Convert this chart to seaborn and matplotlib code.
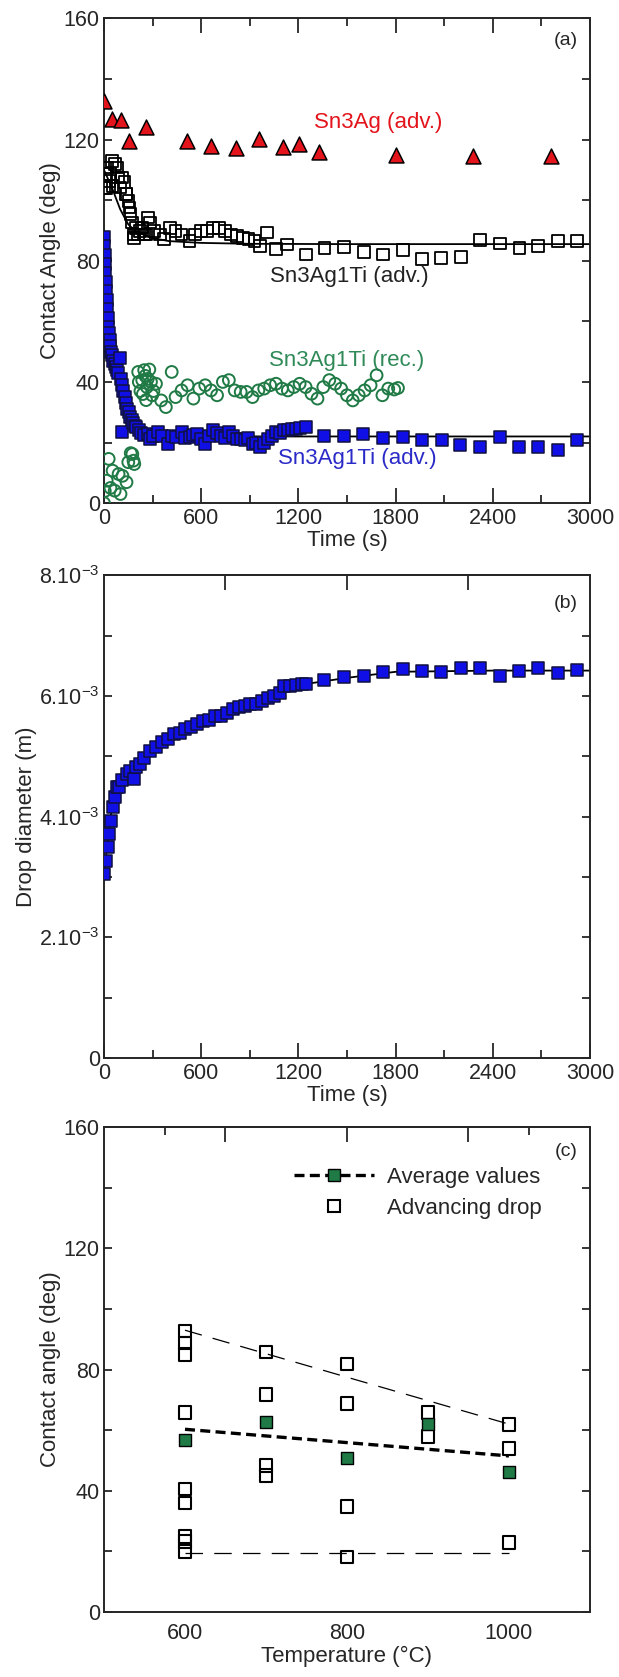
import numpy as np
import pandas as pd
import matplotlib
matplotlib.use('Agg')
import matplotlib.pyplot as plt
from matplotlib.lines import Line2D
from matplotlib.ticker import FixedLocator, FixedFormatter
import seaborn as sns

sns.set_style('ticks')
plt.rcParams['font.family'] = ['Liberation Sans', 'DejaVu Sans']
plt.rcParams['mathtext.default'] = 'regular'
plt.rcParams['axes.linewidth'] = 1.4

# ---------------- panel (a): contact angle vs time ----------------
sn3ag_t = [0, 49, 107, 153, 260, 511, 661, 814, 958, 1106, 1206, 1325, 1801, 2278, 2759]
sn3ag_v = [132.9, 126.9, 126.5, 119.4, 124.3, 119.7, 117.8, 117.1, 120.2, 117.5, 118.6,
           115.8, 115.0, 114.7, 114.5]

ti_adv_t = [0, 5, 12, 17, 29, 36, 49, 53, 66, 78, 85, 102, 109, 126, 134, 139, 151, 158,
            163, 175, 182, 187, 199, 211, 224, 236, 248, 260, 272, 284, 309, 345, 370,
            406, 442, 479, 528, 564, 600, 637, 673, 710, 746, 783, 819, 856, 892, 929,
            965, 1006, 1062, 1130, 1245, 1361, 1483, 1604, 1724, 1845, 1962, 2083, 2205,
            2322, 2443, 2565, 2679, 2801, 2922]
ti_adv_v = [104, 108.6, 104, 110.8, 106.4, 108.6, 113, 104.8, 112, 110.8, 107.5, 104.2,
            107.5, 105.9, 102, 102, 99.8, 97.6, 95.4, 92.6, 88.7, 87.6, 90.9, 88.7, 89.8,
            91, 88.7, 88.7, 94.3, 92.6, 89.8, 88.7, 87.1, 90.9, 89.8, 88.7, 86.5, 88.7,
            89.8, 89.8, 90.9, 90.9, 89.8, 88.7, 88.2, 87.6, 87.1, 86.5, 84.9, 89.3, 83.8,
            85.4, 82.1, 84.3, 84.5, 83.0, 82.1, 83.5, 80.7, 81.0, 81.3, 86.9, 85.7, 84.3,
            84.9, 86.5, 86.5]
ti_adv_fit_t = [0, 50, 100, 150, 200, 300, 400, 600, 900, 1500, 3000]
ti_adv_fit_v = [110, 104, 97, 92, 89.5, 87.5, 86.5, 85.9, 85.6, 85.5, 85.5]

ti_rec_t = [0, 5, 17, 29, 40, 53, 66, 90, 102, 114, 139, 150, 165, 175, 182, 187, 211,
            215, 225, 236, 240, 248, 255, 260, 265, 270, 280, 290, 297, 305, 321, 353,
            382, 418, 442, 479, 516, 552, 588, 625, 661, 698, 734, 771, 807, 844, 880,
            917, 953, 989, 1026, 1062, 1099, 1135, 1172, 1208, 1245, 1281, 1318, 1354,
            1391, 1427, 1464, 1500, 1536, 1573, 1609, 1646, 1683, 1719, 1755, 1792, 1815]
ti_rec_v = [0, 4, 7.4, 14.6, 5, 10.7, 4.1, 9.6, 3, 9, 6.9, 13.5, 16.5, 16.2, 14, 12.9,
            43.3, 40, 37, 40.6, 36, 43.9, 42, 34, 38.3, 41, 44.1, 40, 35.6, 37, 39.4,
            33.9, 31.7, 43.3, 35, 37.2, 38.9, 34.5, 37.8, 38.9, 37.2, 35.6, 40, 40.6,
            37.2, 36.7, 36.7, 35, 37.2, 37.8, 38.9, 39.4, 37.8, 37.2, 38.3, 39.4, 38.3,
            36.1, 34.5, 38.3, 40.6, 39.4, 37.8, 35.6, 33.9, 35.6, 37.2, 38.9, 42.2, 35.6,
            37.8, 37.5, 38]

blue_t = [0, 2, 4, 6, 8, 10, 13, 16, 19, 22, 26, 30, 35, 40, 46, 52, 58, 65, 72, 80, 88,
          96, 104, 111, 112, 120, 128, 136, 144, 152, 160, 170, 180, 190, 200, 215, 230,
          250, 272, 284, 300, 333, 360, 394, 420, 442, 479, 500, 528, 550, 576, 600, 625,
          650, 673, 700, 722, 746, 770, 795, 819, 845, 868, 890, 917, 940, 965, 990,
          1014, 1040, 1062, 1085, 1111, 1135, 1160, 1185, 1208, 1245, 1360, 1480, 1600,
          1720, 1845, 1965, 2085, 2200, 2322, 2443, 2565, 2680, 2800, 2922]
blue_v = [88, 85, 82, 79, 76, 73, 70, 67, 64, 61, 58, 56, 54, 52, 50, 49, 47, 46, 45, 44,
          43, 48, 41, 23.4, 39, 37, 35, 33, 31, 30, 28.5, 27.5, 26.5, 25.5, 25, 24, 23,
          22.5, 22.9, 21.2, 22, 23.4, 22, 19.6, 22, 21.8, 23.4, 21.5, 21.8, 22.5, 22.9,
          21, 19.6, 22, 24.0, 23, 22.3, 21.5, 23.4, 22, 21.2, 21, 20.7, 21.5, 19.6, 20,
          18.5, 20, 21.2, 22, 23.4, 23, 24, 24, 24.5, 24.5, 24.9, 25.1, 22.1, 22.2, 22.8,
          21.4, 21.9, 20.8, 20.8, 19.1, 18.6, 21.9, 18.5, 18.5, 17.5, 20.7]
blue_fit_t = [0, 25, 50, 100, 150, 200, 300, 500, 1000, 3000]
blue_fit_v = [88, 62, 50, 40, 31, 26, 23, 22.2, 22, 22]

# ---------------- panel (b): drop diameter vs time ----------------
diam_t = [0, 12, 22, 32, 41, 53, 66, 78, 90, 114, 139, 163, 187, 199, 224, 248, 284,
          321, 357, 394, 430, 467, 503, 540, 576, 613, 649, 686, 722, 759, 795, 831,
          868, 904, 941, 977, 1014, 1050, 1087, 1111, 1147, 1184, 1220, 1245, 1361,
          1483, 1604, 1724, 1845, 1962, 2083, 2205, 2322, 2443, 2565, 2679, 2801, 2922]
diam_v = [3.05, 3.27, 3.49, 3.71, 3.93, 4.16, 4.32, 4.49, 4.49, 4.6, 4.71, 4.76, 4.62,
          4.82, 4.87, 4.98, 5.09, 5.15, 5.23, 5.28, 5.37, 5.39, 5.45, 5.48, 5.53, 5.59,
          5.61, 5.67, 5.67, 5.72, 5.78, 5.82, 5.83, 5.86, 5.87, 5.92, 5.96, 6.0, 6.05,
          6.16, 6.16, 6.18, 6.19, 6.19, 6.26, 6.31, 6.33, 6.4, 6.44, 6.41, 6.4, 6.47,
          6.46, 6.33, 6.41, 6.47, 6.38, 6.43]
diam_fit_t = [0, 20, 50, 80, 150, 250, 400, 600, 800, 1000, 1200, 1500, 1800, 2400, 3000]
diam_fit_v = [3.05, 3.5, 4.2, 4.5, 4.75, 5.0, 5.3, 5.57, 5.78, 5.95, 6.18, 6.3, 6.4,
              6.42, 6.42]

# ---------------- panel (c): contact angle vs temperature ----------------
adv_T = [600] * 9 + [700] * 4 + [800] * 4 + [900] * 2 + [1000] * 3
adv_v = [92.8, 88.8, 85, 65.8, 40.5, 36, 24.9, 23.3, 20,
         85.8, 71.8, 48.4, 45.1,
         81.9, 68.8, 34.8, 18.1,
         65.8, 57.9,
         61.9, 53.9, 22.9]
avg_T = [600, 700, 800, 900, 1000]
avg_v = [56.9, 62.7, 50.9, 61.9, 46.1]
avg_fit_T = [600, 1000]
avg_fit_v = [60.3, 51.5]
upper_T = [600, 1000]
upper_v = [93, 62]
lower_T = [600, 1000]
lower_v = [19.5, 19.5]

RED = '#e3141b'
BLUE = '#1010e6'
GREEN = '#1f7a45'
GREEN_TXT = '#2f8a58'
BLUE_TXT = '#2a2ac8'
FS = 16
TFS = 15.5

fig = plt.figure(figsize=(6.19, 16.77), dpi=100)
ax_a = fig.add_axes([0.168, 0.700, 0.785, 0.289])
ax_b = fig.add_axes([0.168, 0.369, 0.785, 0.288])
ax_c = fig.add_axes([0.168, 0.0388, 0.785, 0.289])

# (a)
sns.lineplot(x=ti_adv_fit_t, y=ti_adv_fit_v, ax=ax_a, color='black', lw=1.3)
sns.lineplot(x=blue_fit_t, y=blue_fit_v, ax=ax_a, color='black', lw=1.3)
sns.scatterplot(x=ti_adv_t, y=ti_adv_v, ax=ax_a, marker='s', s=72,
                facecolor='none', edgecolor='black', linewidth=1.3, zorder=3)
sns.scatterplot(x=blue_t, y=blue_v, ax=ax_a, marker='s', s=72,
                color=BLUE, edgecolor='#101040', linewidth=1.1, zorder=3)
sns.scatterplot(x=ti_rec_t, y=ti_rec_v, ax=ax_a, marker='o', s=72,
                facecolor='none', edgecolor=GREEN, linewidth=1.4, zorder=4)
sns.scatterplot(x=sn3ag_t, y=sn3ag_v, ax=ax_a, marker='^', s=115,
                color=RED, edgecolor='black', linewidth=1.1, zorder=5)
ax_a.text(1690, 125.7, 'Sn3Ag (adv.)', color=RED, fontsize=FS, ha='center', va='center')
ax_a.text(1512, 74.9, 'Sn3Ag1Ti (adv.)', color='#222222', fontsize=FS, ha='center', va='center')
ax_a.text(1500, 47.2, 'Sn3Ag1Ti (rec.)', color=GREEN_TXT, fontsize=FS, ha='center', va='center')
ax_a.text(1561, 14.6, 'Sn3Ag1Ti (adv.)', color=BLUE_TXT, fontsize=FS, ha='center', va='center')
ax_a.text(0.975, 0.955, '(a)', transform=ax_a.transAxes, fontsize=FS - 2, ha='right', va='center')
ax_a.set_xlim(0, 3000)
ax_a.set_ylim(0, 160)
ax_a.set_xticks([0, 600, 1200, 1800, 2400, 3000])
ax_a.set_xticks([300, 900, 1500, 2100, 2700], minor=True)
ax_a.set_yticks([0, 40, 80, 120, 160])
ax_a.set_yticks([20, 60, 100, 140], minor=True)
ax_a.set_xlabel('Time (s)', fontsize=FS, labelpad=1)
ax_a.set_ylabel('Contact Angle (deg)', fontsize=FS, labelpad=2)

# (b)
sns.lineplot(x=diam_fit_t, y=diam_fit_v, ax=ax_b, color='black', lw=1.3)
sns.scatterplot(x=diam_t, y=diam_v, ax=ax_b, marker='s', s=72,
                color=BLUE, edgecolor='#101040', linewidth=1.1, zorder=3)
ax_b.text(0.975, 0.96, '(b)', transform=ax_b.transAxes, fontsize=FS - 2, ha='right', va='top')
ax_b.set_xlim(0, 3000)
ax_b.set_ylim(0, 8)
ax_b.set_xticks([0, 600, 1200, 1800, 2400, 3000])
ax_b.set_xticks([300, 900, 1500, 2100, 2700], minor=True)
ax_b.yaxis.set_major_locator(FixedLocator([0, 2, 4, 6, 8]))
ax_b.yaxis.set_major_formatter(FixedFormatter(['0', '2.10$^{-3}$', '4.10$^{-3}$',
                                               '6.10$^{-3}$', '8.10$^{-3}$']))
ax_b.set_yticks([1, 3, 5, 7], minor=True)
ax_b.set_xlabel('Time (s)', fontsize=FS, labelpad=1)
ax_b.set_ylabel('Drop diameter (m)', fontsize=FS, labelpad=2)
sec_b = ax_b.secondary_xaxis('top')
sec_b.set_xticks([750, 1500, 2250])
sec_b.tick_params(direction='in', length=11, width=1.3, labeltop=False)

# (c)
sns.lineplot(x=upper_T, y=upper_v, ax=ax_c, color='black', lw=0.9)
ax_c.lines[-1].set_dashes([14, 9])
sns.lineplot(x=lower_T, y=lower_v, ax=ax_c, color='black', lw=0.9)
ax_c.lines[-1].set_dashes([14, 9])
sns.lineplot(x=avg_fit_T, y=avg_fit_v, ax=ax_c, color='black', lw=2.4)
ax_c.lines[-1].set_dashes([3, 1.6])
sns.scatterplot(x=adv_T, y=adv_v, ax=ax_c, marker='s', s=80,
                facecolor='none', edgecolor='black', linewidth=1.5, zorder=3)
sns.scatterplot(x=avg_T, y=avg_v, ax=ax_c, marker='s', s=80,
                color=GREEN, edgecolor='black', linewidth=1.0, zorder=4)
h_avg = Line2D([], [], color='black', lw=2.4, dashes=[3, 1.6], marker='s', ms=8.5,
               markerfacecolor=GREEN, markeredgecolor='black')
h_adv = Line2D([], [], ls='none', marker='s', ms=8.5, markerfacecolor='none',
               markeredgecolor='black', markeredgewidth=1.5)
ax_c.legend([h_avg, h_adv], ['Average values', 'Advancing drop'], frameon=False,
            loc='upper left', bbox_to_anchor=(0.35, 0.96), fontsize=FS,
            handlelength=3.6, handletextpad=0.6, labelspacing=0.45)
ax_c.text(0.975, 0.95, '(c)', transform=ax_c.transAxes, fontsize=FS - 2, ha='right', va='center')
ax_c.set_xlim(500, 1100)
ax_c.set_ylim(0, 160)
ax_c.set_xticks([600, 800, 1000])
ax_c.set_yticks([0, 40, 80, 120, 160])
ax_c.set_yticks([20, 60, 100, 140], minor=True)
ax_c.set_xlabel('Temperature (°C)', fontsize=FS, labelpad=1)
ax_c.set_ylabel('Contact angle (deg)', fontsize=FS, labelpad=2)
sec_c = ax_c.secondary_xaxis('top')
sec_c.set_xticks([650, 800, 950])
sec_c.set_xticks([575, 1025], minor=True)
sec_c.tick_params(which='major', direction='in', length=11, width=1.3, labeltop=False)
sec_c.tick_params(which='minor', direction='in', length=6, width=1.3)

for ax in (ax_a, ax_b, ax_c):
    ax.tick_params(axis='both', which='both', direction='in', right=True,
                   labelsize=TFS, width=1.3)
    ax.tick_params(axis='y', which='both', length=6, pad=3)
    ax.tick_params(axis='x', which='major', length=11)
    ax.tick_params(axis='x', which='minor', length=6)
    for sp in ax.spines.values():
        sp.set_visible(True)
        sp.set_linewidth(1.4)

ax_a.tick_params(axis='x', which='both', top=True)
ax_c.tick_params(axis='x', which='both', length=0, pad=8)

fig.savefig('out.png', dpi=100, facecolor='white')
